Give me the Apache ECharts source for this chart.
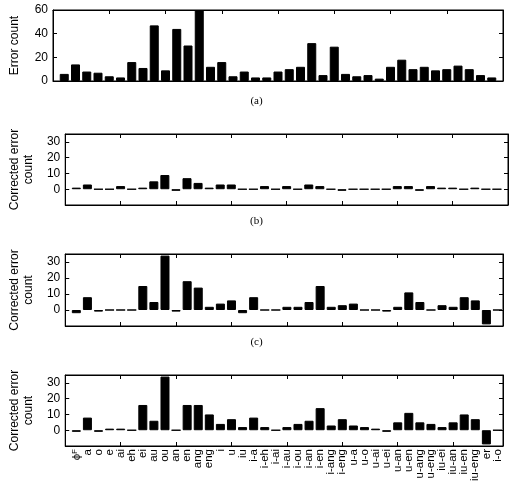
<!DOCTYPE html>
<html><head><meta charset="utf-8">
<script src="https://cdn.jsdelivr.net/npm/echarts@6/dist/echarts.min.js"></script>
<style>html,body{margin:0;padding:0;background:#fff}#c{width:513px;height:498px}</style>
</head><body><div id="c"></div>
<script>
const categories = ['ϕF','a','o','e','ai','eh','ei','au','ou','an','en','ang','eng','i','u','iu','i-a','i-eh','i-ai','i-au','i-ou','i-an','i-en','i-ang','i-eng','u-a','u-o','u-ai','u-ei','u-an','u-en','u-ang','u-eng','iu-ei','iu-an','iu-en','iu-eng','er','i-o'];
const errorCount = [6,14,8,7,4,3,16,11,47,9,44,30,60,12,16,4,8,3,3,8,10,12,32,5,29,6,4,5,2,12,18,10,12,9,10,13,10,5,3];
const correctedB = [1,3,0,0,2,0,1,5,9,-1,7,4,1,3,3,0,0,2,0,2,0,3,2,0,-1,0,0,0,0,2,2,-1,2,1,1,0,1,0,0];
const correctedC = [-2,8,-1,0,0,0,15,5,34,-1,18,14,2,4,6,-2,8,0,0,2,2,5,15,2,3,4,0,0,-1,2,11,5,0,3,2,8,6,-9,0];
const correctedD = [-1,8,-1,1,1,0,16,6,34,0,16,16,10,4,7,2,8,2,0,2,4,6,14,3,7,3,2,1,-1,5,11,5,4,2,5,10,7,-9,0];
const captions = ['(a)','(b)','(c)'];
const yTicksA = [0,20,40,60];
const yTicksB = [0,10,20,30];

const FONT = 'Liberation Sans, Arial, sans-serif';
const panels = [
  {data: errorCount, left: 50, right: 10, top: 10, height: 71, xmax: 40, ymin: 0, ymax: 60, yint: 20, ticks: yTicksA, name: 'Error count', gap: 31, labels: false},
  {data: correctedB, left: 55, right: 5, top: 134, height: 71, xmax: 40, ymin: -10, ymax: 35, yint: 10, ticks: yTicksB, name: 'Corrected error\ncount', gap: 29, labels: false},
  {data: correctedC, left: 55, right: 10, top: 254, height: 72, xmax: 39.5, ymin: -10, ymax: 35, yint: 10, ticks: yTicksB, name: 'Corrected error\ncount', gap: 29, labels: false},
  {data: correctedD, left: 55, right: 10, top: 375, height: 71, xmax: 39.5, ymin: -10, ymax: 35, yint: 10, ticks: yTicksB, name: 'Corrected error\ncount', gap: 29, labels: true}
];

const line = () => ({show: true, onZero: false, lineStyle: {color: '#000', width: 1}});
const tick = () => ({show: true, inside: true, length: 4, lineStyle: {color: '#000', width: 1}});
const grid = [], xAxis = [], yAxis = [], series = [];
panels.forEach((p, gi) => {
  grid.push({left: p.left, right: p.right, top: p.top, height: p.height, show: true, borderColor: '#000', borderWidth: 1});
  const baseX = xAxis.length;
  const tickAx = (pos) => ({gridIndex: gi, type: 'value', position: pos, min: 0, max: p.xmax, interval: 5,
    axisLine: line(), splitLine: {show: false}, axisLabel: {show: false}, axisTick: tick()});
  xAxis.push(tickAx('bottom'));
  xAxis.push(tickAx('top'));
  if (p.labels) {
    xAxis.push({gridIndex: gi, type: 'value', position: 'bottom', min: 0, max: p.xmax, interval: 1,
      axisLine: {show: false, onZero: false}, splitLine: {show: false}, axisTick: {show: false},
      axisLabel: {show: true, rotate: 90, margin: 3, fontSize: 11.5, fontFamily: FONT, color: '#000',
        showMinLabel: true, showMaxLabel: true, hideOverlap: false, interval: 0,
        formatter: v => {
          if (!Number.isInteger(v) || v < 1 || v > categories.length) return '';
          const c = categories[v - 1];
          if (c === 'ϕF') return '{p|ϕ}{s|F}';
          return c;
        },
        rich: {p: {fontSize: 11.5, fontFamily: FONT, color: '#000'}, s: {fontSize: 8, fontFamily: FONT, color: '#000', padding: [0,0,4,0]}}
      }});
  }
  const baseY = yAxis.length;
  yAxis.push({gridIndex: gi, type: 'value', position: 'left', min: p.ymin, max: p.ymax, interval: p.yint,
    name: p.name, nameLocation: 'middle', nameGap: p.gap, nameRotate: 90,
    nameTextStyle: {fontSize: 12, fontFamily: FONT, color: '#000', lineHeight: 14},
    axisLine: line(), splitLine: {show: false}, axisTick: tick(),
    axisLabel: {margin: 5, fontSize: 12, fontFamily: FONT, color: '#000', showMinLabel: true, showMaxLabel: true,
      formatter: v => (p.ticks.indexOf(v) >= 0 ? String(v) : '')}});
  yAxis.push({gridIndex: gi, type: 'value', position: 'right', min: p.ymin, max: p.ymax, interval: p.yint,
    axisLine: line(), splitLine: {show: false}, axisLabel: {show: false}, axisTick: tick()});
  series.push({type: 'bar', xAxisIndex: baseX, yAxisIndex: baseY, barWidth: 9,
    data: p.data.map((v, i) => [i + 1, v]),
    itemStyle: {color: '#000', borderColor: '#000', borderWidth: 1},
    silent: true, animation: false});
});

const title = captions.map((t, i) => ({text: t, left: 'center', top: [91, 211, 332][i],
  textStyle: {fontSize: 11, fontWeight: 'normal', fontFamily: 'Liberation Serif, Times New Roman, serif', color: '#000'}}));

const chart = echarts.init(document.getElementById('c'), null, {renderer: 'canvas'});
chart.setOption({animation: false, backgroundColor: '#fff', title, grid, xAxis, yAxis, series});
</script>
</body></html>
